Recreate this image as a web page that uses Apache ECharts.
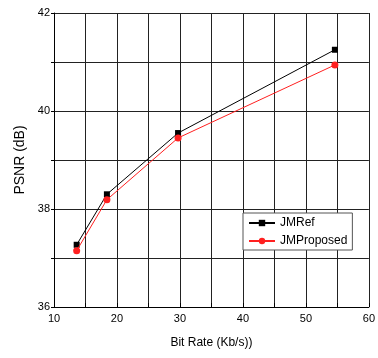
<!DOCTYPE html>
<html><head><meta charset="utf-8">
<script src="https://cdn.jsdelivr.net/npm/echarts@6/dist/echarts.min.js"></script>
<style>html,body{margin:0;padding:0;background:#fff}#c{width:378px;height:358px}</style>
</head><body><div id="c"></div>
<script>
const bitRate = [13.6, 18.4, 29.7, 54.6];
const jmRef = [37.27, 38.30, 39.55, 41.25];
const jmProposed = [37.15, 38.19, 39.45, 40.94];
const font = 'Liberation Sans, Arial, sans-serif';
const chart = echarts.init(document.getElementById('c'));
chart.setOption({
  animation: false,
  backgroundColor: '#fff',
  grid: {left: 54, right: 5, top: 13, bottom: 51},
  legend: {
    orient: 'vertical', left: 243, top: 213, padding: [4, 5, 3, 5],
    backgroundColor: '#fff', borderColor: '#555', borderWidth: 1,
    itemWidth: 26, itemHeight: 8, itemGap: 6,
    textStyle: {fontFamily: font, fontSize: 12, color: '#000', letterSpacing: -1},
    data: ['JMRef', 'JMProposed']
  },
  xAxis: {
    type: 'value', min: 10, max: 60, interval: 5,
    name: 'Bit Rate (Kb/s))', nameLocation: 'middle', nameGap: 30,
    nameTextStyle: {fontFamily: font, fontSize: 12, color: '#000', letterSpacing: -0.6},
    axisLine: {lineStyle: {color: '#000', width: 1}},
    axisTick: {show: true, inside: true, length: 4, lineStyle: {color: '#000'}},
    axisLabel: {fontFamily: font, fontSize: 11, color: '#000', margin: 6, letterSpacing: -0.6,
      formatter: v => (v % 10 === 0 ? String(v) : '')},
    splitLine: {show: true, lineStyle: {color: '#222', width: 1}}
  },
  yAxis: {
    type: 'value', min: 36, max: 42, interval: 1,
    name: 'PSNR (dB)', nameLocation: 'middle', nameGap: 25, nameRotate: 90,
    nameTextStyle: {fontFamily: font, fontSize: 14, color: '#000'},
    axisLine: {show: true, lineStyle: {color: '#000', width: 1}},
    axisTick: {show: true, length: 3, lineStyle: {color: '#000'}},
    axisLabel: {fontFamily: font, fontSize: 11, color: '#000', margin: 4, letterSpacing: -0.6,
      formatter: v => (v % 2 === 0 ? String(v) : '')},
    splitLine: {show: true, lineStyle: {color: '#222', width: 1}}
  },
  series: [
    {name: 'JMRef', type: 'line', data: bitRate.map((x, i) => [x, jmRef[i]]),
     symbol: 'rect', symbolSize: 6, lineStyle: {color: '#000', width: 1},
     itemStyle: {color: '#000'}, z: 3},
    {name: 'JMProposed', type: 'line', data: bitRate.map((x, i) => [x, jmProposed[i]]),
     symbol: 'circle', symbolSize: 7, lineStyle: {color: '#ff2020', width: 1},
     itemStyle: {color: '#ff2020'}, z: 4}
  ]
});
</script></body></html>
